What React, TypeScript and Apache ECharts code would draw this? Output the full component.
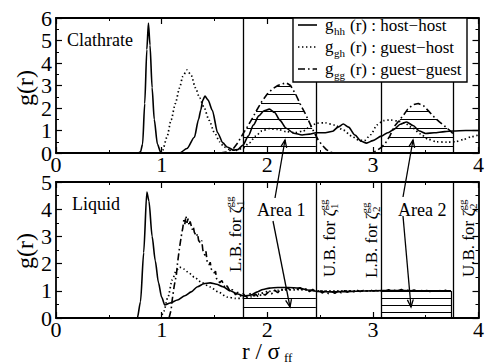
import React, { useEffect, useRef } from "react";
import * as echarts from "echarts";

const FONT = "Liberation Serif";

// ---- Clathrate phase radial distribution functions, [r / sigma_ff, g(r)] ----
const clathHostHost: number[][] = [
  [0, 0], [0.78, 0], [0.8, 0.05], [0.82, 0.4], [0.84, 2.2], [0.86, 4.6], [0.875, 5.78], [0.89, 4.8],
  [0.91, 2.9], [0.93, 1.5], [0.96, 0.4], [0.99, 0.05], [1.0, 0], [1.17, 0], [1.24, 0.2], [1.31, 0.7],
  [1.35, 1.5], [1.37, 1.9], [1.39, 2.35], [1.41, 2.53], [1.44, 2.35], [1.48, 1.9], [1.53, 0.9],
  [1.58, 0.45], [1.62, 0.27], [1.68, 0.13], [1.72, 0.15], [1.77, 0.35], [1.82, 0.75], [1.87, 1.25],
  [1.92, 1.65], [1.97, 1.88], [2.02, 1.95], [2.07, 1.8], [2.12, 1.45], [2.18, 1.1], [2.25, 0.88],
  [2.33, 0.8], [2.4, 0.84], [2.46, 0.9], [2.55, 0.9], [2.62, 0.97], [2.67, 1.15], [2.72, 1.29],
  [2.77, 1.15], [2.83, 0.8], [2.89, 0.52], [2.94, 0.44], [3.0, 0.55], [3.08, 0.75], [3.14, 0.9],
  [3.2, 1.05], [3.26, 1.28], [3.32, 1.38], [3.38, 1.22], [3.44, 0.98], [3.5, 0.87], [3.58, 0.9],
  [3.68, 0.95], [3.76, 0.98], [3.88, 1.0], [4.0, 1.0],
];
const clathGuestHost: number[][] = [
  [0, 0], [0.99, 0], [1.01, 0.13], [1.05, 0.7], [1.09, 1.47], [1.13, 2.2], [1.17, 2.9], [1.2, 3.4],
  [1.24, 3.69], [1.28, 3.45], [1.32, 2.9], [1.36, 2.45], [1.4, 2.04], [1.45, 1.45], [1.5, 0.9],
  [1.55, 0.5], [1.59, 0.27], [1.65, 0.15], [1.71, 0.12], [1.77, 0.22], [1.83, 0.45], [1.89, 0.75],
  [1.95, 0.98], [2.02, 1.08], [2.1, 1.05], [2.18, 0.95], [2.26, 0.9], [2.34, 0.98], [2.41, 1.18],
  [2.47, 1.33], [2.55, 1.34], [2.64, 1.24], [2.72, 1.02], [2.8, 0.75], [2.86, 0.58], [2.92, 0.55],
  [2.98, 0.82], [3.04, 1.25], [3.1, 1.44], [3.16, 1.47], [3.24, 1.42], [3.3, 1.33], [3.38, 1.1],
  [3.45, 0.85], [3.52, 0.62], [3.6, 0.5], [3.7, 0.48], [3.78, 0.5], [3.86, 0.6], [3.93, 0.72], [4.0, 0.8],
];
const clathGuestGuest: number[][] = [
  [1.55, 0], [1.62, 0.05], [1.68, 0.2], [1.72, 0.45], [1.77, 0.85], [1.81, 1.15], [1.86, 1.55],
  [1.9, 1.9], [1.95, 2.3], [2.0, 2.62], [2.05, 2.85], [2.1, 3.0], [2.15, 3.08], [2.18, 3.12],
  [2.22, 3.0], [2.27, 2.6], [2.32, 2.1], [2.36, 1.75], [2.4, 1.35], [2.44, 0.95], [2.48, 0.6],
  [2.52, 0.35], [2.56, 0.15], [2.6, 0.03], [2.65, 0], [2.98, 0], [3.03, 0.08], [3.08, 0.25],
  [3.12, 0.45], [3.16, 0.75], [3.2, 1.16], [3.25, 1.45], [3.29, 1.68], [3.33, 1.95], [3.38, 2.15],
  [3.43, 2.2], [3.48, 2.1], [3.53, 1.85], [3.58, 1.6], [3.63, 1.38], [3.69, 1.16], [3.74, 0.95],
  [3.76, 0.85],
];

// ---- Liquid phase radial distribution functions ----
const liqHostHost: number[][] = [
  [0, 0], [0.77, 0], [0.8, 0.6], [0.83, 2.4], [0.86, 4.63], [0.88, 4.3], [0.91, 3.0], [0.94, 2.1],
  [0.97, 1.3], [1.0, 0.77], [1.03, 0.48], [1.08, 0.55], [1.15, 0.66], [1.22, 0.82], [1.28, 0.96],
  [1.34, 1.15], [1.4, 1.26], [1.46, 1.29], [1.52, 1.24], [1.58, 1.15], [1.65, 1.0], [1.72, 0.88],
  [1.79, 0.8], [1.85, 0.85], [1.9, 0.95], [1.96, 1.05], [2.02, 1.1], [2.1, 1.12], [2.2, 1.12],
  [2.3, 1.1], [2.4, 1.02], [2.5, 0.97], [2.6, 0.96], [2.8, 0.98], [3.0, 1.0], [3.2, 1.01],
  [3.4, 1.0], [3.6, 1.0], [3.74, 1.0],
];
const liqGuestHost: number[][] = [
  [0, 0], [0.99, 0], [1.02, 0.25], [1.06, 0.77], [1.1, 1.4], [1.14, 1.75], [1.17, 1.87],
  [1.21, 1.8], [1.26, 1.65], [1.31, 1.5], [1.38, 1.3], [1.46, 1.14], [1.54, 0.95], [1.62, 0.77],
  [1.7, 0.72], [1.78, 0.73], [1.85, 0.78], [1.92, 0.88], [2.0, 0.97], [2.1, 1.02], [2.3, 1.04],
  [2.5, 1.0], [3.0, 1.0], [3.74, 1.0],
];
const liqGuestGuest: number[][] = [
  [1.07, 0], [1.09, 0.3], [1.1, 0.66], [1.12, 1.2], [1.14, 1.6], [1.15, 2.0], [1.17, 2.6],
  [1.19, 3.1], [1.2, 3.3], [1.21, 3.6], [1.22, 3.45], [1.23, 3.75], [1.24, 3.5], [1.25, 3.65],
  [1.26, 3.4], [1.27, 3.55], [1.29, 3.25], [1.3, 3.35], [1.31, 3.15], [1.33, 3.0], [1.34, 3.1],
  [1.35, 2.85], [1.37, 2.75], [1.38, 2.85], [1.39, 2.5], [1.41, 2.3], [1.42, 2.45], [1.43, 2.1],
  [1.45, 1.95], [1.46, 2.05], [1.47, 1.8], [1.5, 1.65], [1.51, 1.72], [1.52, 1.45], [1.55, 1.3],
  [1.57, 1.38], [1.6, 1.1], [1.62, 1.18], [1.65, 0.96], [1.67, 1.05], [1.7, 0.85], [1.72, 0.95],
  [1.75, 0.8], [1.77, 0.9],
  [1.8, 0.78], [1.83, 0.92], [1.86, 0.8], [1.89, 0.88], [1.92, 0.76], [1.95, 0.9], [1.98, 0.84],
  [2.01, 0.95], [2.04, 0.88], [2.07, 1.02], [2.1, 0.93], [2.13, 1.08], [2.16, 1.0], [2.19, 1.12],
  [2.22, 1.03], [2.25, 1.1], [2.28, 1.04], [2.31, 1.12], [2.34, 1.02], [2.37, 1.08], [2.4, 0.97],
  [2.43, 1.05], [2.46, 0.94], [2.49, 1.03], [2.52, 0.92], [2.55, 1.0], [2.58, 0.9], [2.61, 0.97],
  [2.64, 0.91], [2.67, 0.99], [2.7, 0.93], [2.73, 1.0], [2.76, 0.95], [2.79, 1.01], [2.82, 0.96],
  [2.85, 1.02], [2.88, 0.97], [2.91, 1.01], [2.94, 0.98], [2.97, 1.03], [3.0, 0.99], [3.03, 1.01],
  [3.06, 0.97], [3.09, 1.03], [3.12, 0.99], [3.15, 1.04], [3.18, 0.98], [3.21, 1.02], [3.24, 1.0],
  [3.27, 1.05], [3.3, 0.98], [3.33, 1.02], [3.36, 0.99], [3.39, 1.03], [3.42, 0.98], [3.45, 1.02],
  [3.48, 0.99], [3.51, 1.01], [3.54, 0.97], [3.57, 1.02], [3.6, 0.99], [3.63, 1.01], [3.66, 0.98],
  [3.69, 1.02], [3.72, 0.99], [3.74, 1.0],
];

// ---- integration windows (lower / upper bounds for zeta_1^gg and zeta_2^gg) ----
const zeta1Bounds = [1.77, 2.46];
const zeta2Bounds = [3.08, 3.76];
const boundaries = [...zeta1Bounds, ...zeta2Bounds];

// hatching levels (g values) for the shaded areas
const clathHatchLevels = [0.3, 0.7, 1.1, 1.48, 1.84, 2.22, 2.6, 2.98];
const liqArea1Levels = [0.4, 0.73];
const liqArea2Levels = [0.22, 0.48, 0.74, 0.99];
const liqArea2End = 3.74;

// ---- axis ranges ----
const xRange = [0, 4];
const clathYRange = [0, 6];
const liqYRange = [0, 5];

function interp(data: number[][], r: number): number {
  if (r < data[0][0] || r > data[data.length - 1][0]) return 0;
  for (let i = 1; i < data.length; i++) {
    if (r <= data[i][0]) {
      const [x0, y0] = data[i - 1];
      const [x1, y1] = data[i];
      return x1 === x0 ? y1 : y0 + ((y1 - y0) * (r - x0)) / (x1 - x0);
    }
  }
  return 0;
}

// horizontal hatch segments under a curve, between lo and hi
function hatchUnder(data: number[][], lo: number, hi: number, levels: number[]) {
  const segs: any[] = [];
  const step = 0.001;
  for (const L of levels) {
    let start: number | null = null;
    let last = lo;
    for (let r = lo; r <= hi + 1e-9; r += step) {
      const above = interp(data, r) >= L;
      if (above) {
        if (start === null) start = r;
        last = r;
      } else if (start !== null) {
        segs.push({ coords: [[start, L], [last, L]] });
        start = null;
      }
    }
    if (start !== null) segs.push({ coords: [[start, L], [Math.min(last, hi), L]] });
  }
  return segs;
}

function hatchFull(lo: number, hi: number, levels: number[]) {
  return levels.map((L) => ({ coords: [[lo, L], [hi, L]] }));
}

function measure(text: string, size: number): number {
  const c = document.createElement("canvas").getContext("2d")!;
  c.font = `${size}px "${FONT}"`;
  return c.measureText(text).width;
}

const BLACK = "#000";

function axis(min: number, max: number, gridIndex: number, position: string, labels: boolean, margin: number) {
  return {
    type: "value",
    gridIndex,
    position,
    min,
    max,
    interval: 1,
    axisLine: { show: true, onZero: false, lineStyle: { color: BLACK, width: 1.8 } },
    axisTick: { show: true, inside: true, length: 6, lineStyle: { color: BLACK, width: 1.2 } },
    minorTick: { show: true, splitNumber: 2, length: 3, lineStyle: { color: BLACK, width: 1 } },
    splitLine: { show: false },
    minorSplitLine: { show: false },
    axisLabel: {
      show: labels,
      showMinLabel: true,
      showMaxLabel: true,
      margin,
      color: BLACK,
      fontSize: 22,
      lineHeight: 18,
      fontFamily: FONT,
    },
  };
}

function curve(data: number[][], grid: number, kind: "solid" | "dotted" | "dashdot", smooth: number) {
  const type = kind === "solid" ? "solid" : kind === "dotted" ? [1.4, 2.6] : [7, 3, 1.6, 3];
  return {
    type: "line",
    xAxisIndex: grid * 2,
    yAxisIndex: grid * 2,
    data,
    symbol: "none",
    smooth,
    smoothMonotone: "x",
    lineStyle: { color: BLACK, width: kind === "dotted" ? 1.7 : 1.6, type },
    z: 3,
  };
}

function segSeries(data: any[], grid: number, width = 1.2) {
  return {
    type: "lines",
    coordinateSystem: "cartesian2d",
    xAxisIndex: grid * 2,
    yAxisIndex: grid * 2,
    polyline: false,
    silent: true,
    data,
    lineStyle: { color: BLACK, width, opacity: 1 },
    z: 2,
  };
}

function arrow(x1: number, y1: number, x2: number, y2: number) {
  const ang = Math.atan2(y2 - y1, x2 - x1);
  const len = 8;
  const spread = 0.38;
  const a1 = ang + Math.PI - spread;
  const a2 = ang + Math.PI + spread;
  return [
    { type: "line", shape: { x1, y1, x2, y2 }, style: { stroke: BLACK, lineWidth: 1.3 }, z: 50 },
    {
      type: "polyline",
      shape: {
        points: [
          [x2 + len * Math.cos(a1), y2 + len * Math.sin(a1)],
          [x2, y2],
          [x2 + len * Math.cos(a2), y2 + len * Math.sin(a2)],
        ],
      },
      style: { stroke: BLACK, lineWidth: 1.3, fill: null },
      z: 50,
    },
  ];
}

// vertical label reading bottom-to-top, e.g. "L.B. for ζ" with sub/superscripts
function boundLabel(x: number, yBottom: number, main: string, sub: string, sup: string) {
  const size = 17;
  const w = measure(main, size);
  return {
    type: "group",
    x,
    y: yBottom,
    rotation: Math.PI / 2,
    z: 40,
    children: [
      { type: "text", x: 0, y: 0, style: { text: main, fontSize: size, fontFamily: FONT, fill: BLACK, textAlign: "left", textVerticalAlign: "middle" } },
      { type: "text", x: w + 0.5, y: 5, style: { text: sub, fontSize: 11, fontFamily: FONT, fill: BLACK, textAlign: "left", textVerticalAlign: "middle" } },
      { type: "text", x: w - 1, y: -6, style: { text: sup, fontSize: 11, fontFamily: FONT, fill: BLACK, textAlign: "left", textVerticalAlign: "middle" } },
    ],
  };
}

function txt(x: number, y: number, text: string, size: number, extra: any = {}) {
  return {
    type: "text",
    x,
    y,
    z: 60,
    style: { text, fontSize: size, fontFamily: FONT, fill: BLACK, textAlign: "left", textVerticalAlign: "middle", ...extra },
  };
}

function legendGroup() {
  const rows = [
    { y: 25, kind: "solid", sub: "hh", label: "(r) : host\u2212host" },
    { y: 47, kind: "dotted", sub: "gh", label: "(r) : guest\u2212host" },
    { y: 69, kind: "dashdot", sub: "gg", label: "(r) : guest\u2212guest" },
  ];
  const children: any[] = [
    { type: "rect", shape: { x: 293, y: 18, width: 174, height: 64 }, style: { fill: "#fff", stroke: BLACK, lineWidth: 1.4 }, z: 100 },
  ];
  rows.forEach((row) => {
    const dash = row.kind === "solid" ? null : row.kind === "dotted" ? [1.4, 2.6] : [7, 3, 1.6, 3];
    children.push({
      type: "line",
      shape: { x1: 298, y1: row.y, x2: 317, y2: row.y },
      style: { stroke: BLACK, lineWidth: row.kind === "dotted" ? 1.7 : 1.6, lineDash: dash },
      z: 101,
    });
    children.push({ ...txt(325, row.y - 1, "g", 17), z: 101 });
    children.push({ ...txt(334, row.y + 6, row.sub, 11), z: 101 });
    children.push({ ...txt(350, row.y, row.label, 17), z: 101 });
  });
  return children;
}

export default function App() {
  const ref = useRef<HTMLDivElement>(null);

  useEffect(() => {
    if (!ref.current) return;
    const chart = echarts.init(ref.current, undefined, { renderer: "svg" });

    const graphics: any[] = [
      ...legendGroup(),
      txt(67, 40, "Clathrate", 18),
      txt(72, 204, "Liquid", 18),
      { ...txt(25, 88, "g(r)", 24, { textAlign: "center" }), rotation: Math.PI / 2 },
      { ...txt(25, 251, "g(r)", 24, { textAlign: "center" }), rotation: Math.PI / 2 },
      txt(242, 351, "r / \u03c3", 23, { lineHeight: 20 }),
      txt(284, 357, "ff", 13, { lineHeight: 12 }),
      txt(257, 210, "Area 1", 18),
      txt(398, 210, "Area 2", 18),
      ...arrow(275, 198, 285, 140),
      ...arrow(273, 221, 290, 307),
      ...arrow(403, 197, 413, 140),
      ...arrow(403, 216, 411, 307),
      boundLabel(235, 272, "L.B. for \u03b6", "1", "gg"),
      boundLabel(329, 277, "U.B. for \u03b6", "1", "gg"),
      boundLabel(371, 278, "L.B. for \u03b6", "2", "gg"),
      boundLabel(468, 277, "U.B. for \u03b6", "2", "gg"),
    ];

    chart.setOption({
      animation: false,
      backgroundColor: "#fff",
      textStyle: { fontFamily: FONT },
      grid: [
        { left: 56, top: 18, width: 430, height: 135 },
        { left: 56, top: 182, width: 430, height: 136 },
      ],
      xAxis: [
        axis(xRange[0], xRange[1], 0, "bottom", true, 2),
        axis(xRange[0], xRange[1], 0, "top", false, 2),
        axis(xRange[0], xRange[1], 1, "bottom", true, 2),
        axis(xRange[0], xRange[1], 1, "top", false, 2),
      ],
      yAxis: [
        axis(clathYRange[0], clathYRange[1], 0, "left", true, 4),
        axis(clathYRange[0], clathYRange[1], 0, "right", false, 4),
        axis(liqYRange[0], liqYRange[1], 1, "left", true, 4),
        axis(liqYRange[0], liqYRange[1], 1, "right", false, 4),
      ],
      series: [
        // clathrate panel
        segSeries(boundaries.map((b) => ({ coords: [[b, clathYRange[0]], [b, clathYRange[1]]] })), 0, 1.3),
        segSeries(
          [
            ...hatchUnder(clathGuestGuest, zeta1Bounds[0], zeta1Bounds[1], clathHatchLevels),
            ...hatchUnder(clathGuestGuest, zeta2Bounds[0], zeta2Bounds[1], clathHatchLevels),
          ],
          0
        ),
        curve(clathHostHost, 0, "solid", 0.25),
        curve(clathGuestHost, 0, "dotted", 0.25),
        curve(clathGuestGuest, 0, "dashdot", 0),
        // liquid panel
        segSeries(boundaries.map((b) => ({ coords: [[b, liqYRange[0]], [b, liqYRange[1]]] })), 1, 1.3),
        segSeries(
          [
            ...hatchFull(zeta1Bounds[0], zeta1Bounds[1], liqArea1Levels),
            ...hatchFull(zeta2Bounds[0], liqArea2End, liqArea2Levels),
            { coords: [[liqArea2End, 0], [liqArea2End, liqArea2Levels[liqArea2Levels.length - 1]]] },
          ],
          1
        ),
        curve(liqHostHost, 1, "solid", 0.25),
        curve(liqGuestHost, 1, "dotted", 0.25),
        curve(liqGuestGuest, 1, "dashdot", 0),
      ],
      graphic: graphics,
    });

    return () => chart.dispose();
  }, []);

  return <div ref={ref} style={{ width: 487, height: 364, position: "absolute", left: 0, top: 0 }} />;
}
